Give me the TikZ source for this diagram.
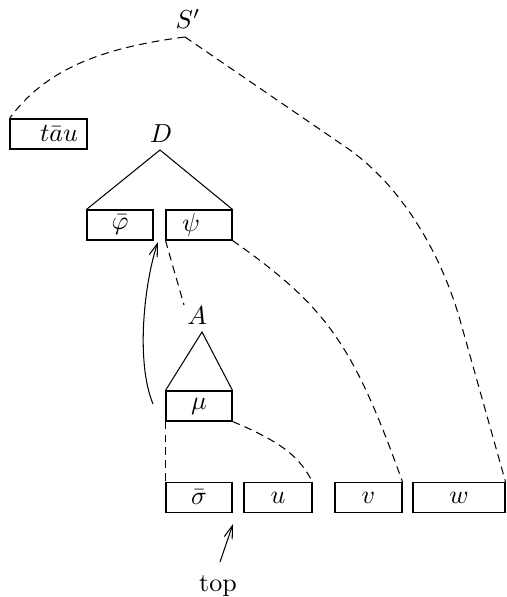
\documentclass[tikz,border=0pt]{standalone}
\usetikzlibrary{arrows.meta}
\def\pxu{0.385pt}
\begin{document}
\begin{tikzpicture}[x=0.385pt, y=-0.385pt,
  box/.style={draw, line width=0.4pt, inner sep=0pt, minimum height=30*\pxu},
  lbl/.style={inner sep=0pt, anchor=base},
  link/.style={line width=0.4pt, dash pattern=on 3pt off 2pt},
  edge/.style={line width=0.4pt},
  mover/.style={line width=0.4pt, -{Straight Barb[length=5pt, width=3.2pt]}}]
  \useasboundingbox (0,0) rectangle (506,597);

  % top of the structure
  \node[lbl] (sp) at (188,29) {$S'$};
  \coordinate (spapex) at (185,37);
  \node[box, minimum width=77*\pxu] (tau) at (48.5,134)
    {\kern8.1pt$t\bar{a}u$};

  % D with its two daughters
  \node[lbl] (d) at (161,143) {$D$};
  \coordinate (dapex) at (160,150);
  \node[box, minimum width=66*\pxu] (phi) at (120,225) {$\bar{\varphi}$};
  \node[box, minimum width=66*\pxu] (psi) at (199,225)
    {$\psi$\kern6.2pt};

  % A with mu
  \node[lbl] (a) at (197,325) {$A$};
  \coordinate (aapex) at (202,332);
  \coordinate (aend) at (184,305);
  \node[box, minimum width=66*\pxu] (mu) at (199,406) {$\mu$};

  % bottom row
  \node[box, minimum width=66*\pxu] (sigma) at (199,497.5) {$\bar{\sigma}$};
  \node[box, minimum width=68*\pxu] (u) at (278,497.5) {$u$};
  \node[box, minimum width=67*\pxu] (v) at (368.5,497.5) {$v$};
  \node[box, minimum width=92*\pxu] (w) at (459,497.5) {$w$};

  \node[lbl] (top) at (218,591) {top};

  % tree edges
  \draw[edge] (phi.north west) -- (dapex) -- (psi.north east);
  \draw[edge] (mu.north west) -- (aapex) -- (mu.north east);

  % dashed links
  \draw[link] (spapex) .. controls (100,48) and (45,70) .. (tau.north west);
  \coordinate (k1) at (350,150);
  \coordinate (k2) at (460,320);
  \draw[link] (spapex) -- (k1) .. controls (400,186) and (440,250) .. (k2) -- (w.north east);
  \draw[link] (psi.south east) .. controls (327,307) and (353,344) .. (v.north east);
  \draw[link] (mu.south east) .. controls (284,443) and (300,458) .. (u.north east);
  \draw[link] (mu.south west) -- (sigma.north west);
  \draw[link] (psi.south west) -- (aend);

  % movement arrows
  \coordinate (mvstart) at (153,404);
  \coordinate (mvend) at (158,242);
  \draw[mover] (mvstart) .. controls (135,360) and (145,280) .. (mvend);
  \coordinate (topstart) at (220,562);
  \coordinate (topend) at (233,524);
  \draw[mover] (topstart) -- (topend);
\end{tikzpicture}
\end{document}
